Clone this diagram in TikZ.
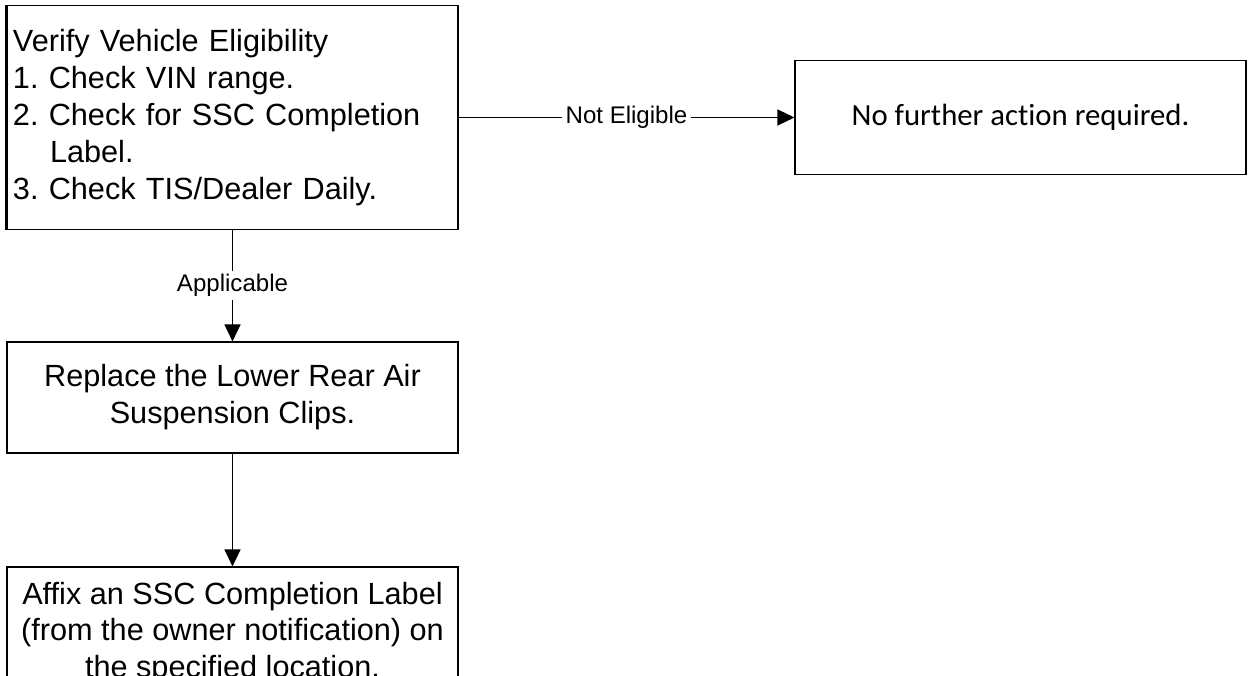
\documentclass[tikz,border=0pt]{standalone}
\usepackage{fontspec}
\setmainfont{Liberation Sans}
\newfontfamily\calibri[Ligatures=NoCommon]{Carlito}
\usetikzlibrary{arrows.meta}
\frenchspacing
\begin{document}
\begin{tikzpicture}[
    box/.style={draw,line width=0.6pt,minimum width=9.02cm,inner sep=0pt,align=center,font=\fontsize{17.45}{21}\selectfont},
    arr/.style={-{Triangle[length=0.34cm,width=0.32cm]},line width=0.6pt},
    lbl/.style={fill=white,inner sep=2pt,font=\fontsize{13.7}{16}\selectfont}
]
\useasboundingbox (0,0) rectangle (24.98,-13.52);
\clip (0,0) rectangle (24.98,-13.52);
\node[box,minimum height=4.48cm,text width=8.78cm,align=left] (verify) at (4.65,-2.35) {Verify Vehicle Eligibility\\1. Check VIN range.\\2. Check for SSC Completion\\\hspace*{0.74cm}Label.\\3. Check TIS/Dealer Daily.};
\node[box,minimum height=2.28cm,font=\calibri\fontsize{17.5}{21}\selectfont] (noaction) at (20.41,-2.35) {No further action required.};
\node[box,minimum height=2.22cm] (replace) at (4.65,-7.95) {Replace the Lower Rear Air\\Suspension Clips.};
\node[box,minimum height=2.64cm] (affix) at (4.65,-12.66) {Affix an SSC Completion Label\\(from the owner notification) on\\the specified location.};
\draw[line width=1.8pt] (verify.north west) -- (verify.south west);
\draw[arr] (verify) -- node[lbl] {Not Eligible} (noaction);
\draw[arr] (verify) -- node[lbl] {Applicable} (replace);
\draw[arr] (replace) -- (affix);
\end{tikzpicture}
\end{document}
